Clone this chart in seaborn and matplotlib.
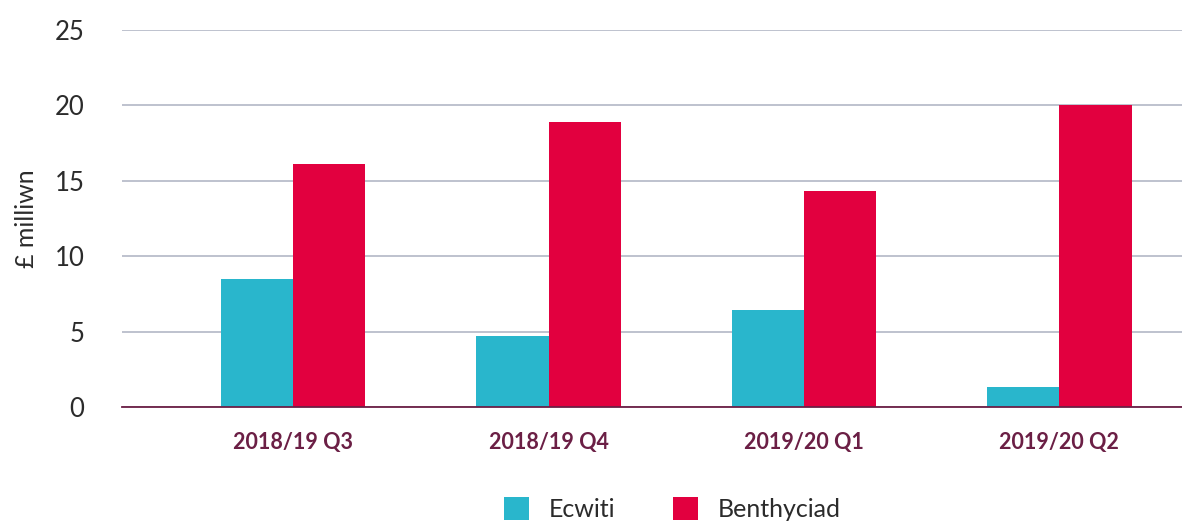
import pandas as pd
import matplotlib
matplotlib.use("Agg")
import matplotlib.pyplot as plt
import seaborn as sns

# data (£ million)
quarters = ["2018/19 Q3", "2018/19 Q4", "2019/20 Q1", "2019/20 Q2"]
ecwiti = [8.5, 4.7, 6.4, 1.3]
benthyciad = [16.1, 18.9, 14.3, 20.0]
series_names = ["Ecwiti", "Benthyciad"]
y_ticks = [0, 5, 10, 15, 20, 25]

df = pd.DataFrame({
    "quarter": quarters * 2,
    "value": ecwiti + benthyciad,
    "series": [series_names[0]] * 4 + [series_names[1]] * 4,
})

sns.set_style("white")
plt.rcParams["font.family"] = ["Lato", "DejaVu Sans"]

fig = plt.figure(figsize=(11.82, 5.24), dpi=100)
ax = fig.add_axes([122 / 1182, 1 - 407 / 524, 1060 / 1182, 377 / 524])

sns.barplot(
    data=df, x="quarter", y="value", hue="series",
    palette=["#29b6cc", "#e2003f"], width=0.565, gap=0,
    saturation=1, ax=ax, legend=True, zorder=3, linewidth=0,
)

ax.set_ylim(0, 25)
ax.set_xlim(-0.67, 3.48)
ax.set_yticks(y_ticks)
ax.yaxis.grid(True, color="#b9bdca", linewidth=1.3, zorder=0)
ax.set_axisbelow(True)
for side in ["top", "right", "left"]:
    ax.spines[side].set_visible(False)
ax.spines["bottom"].set_color("#6b1f45")
ax.spines["bottom"].set_linewidth(1.3)
ax.spines["bottom"].set_zorder(4)

ax.tick_params(axis="y", length=0, pad=27, labelsize=18.5, labelcolor="#2b2b2b")
ax.tick_params(axis="x", length=0, pad=18)
ax.set_xticks(range(len(quarters)), quarters, fontsize=15.5,
              fontweight="bold", color="#6b1f45")

ax.set_xlabel("")
ax.set_ylabel("£ milliwn", fontsize=18, color="#2b2b2b", labelpad=12)

handles, labels = ax.get_legend_handles_labels()
ax.legend(
    handles, labels, loc="center", bbox_to_anchor=(672 / 1182, 1 - 509 / 524),
    bbox_transform=fig.transFigure, ncol=2, frameon=False,
    prop={"size": 18},
    handlelength=1.0, handleheight=1.0, handletextpad=0.8, columnspacing=2.3,
    labelcolor="#2b2b2b",
)

fig.savefig("out.png", dpi=100)
